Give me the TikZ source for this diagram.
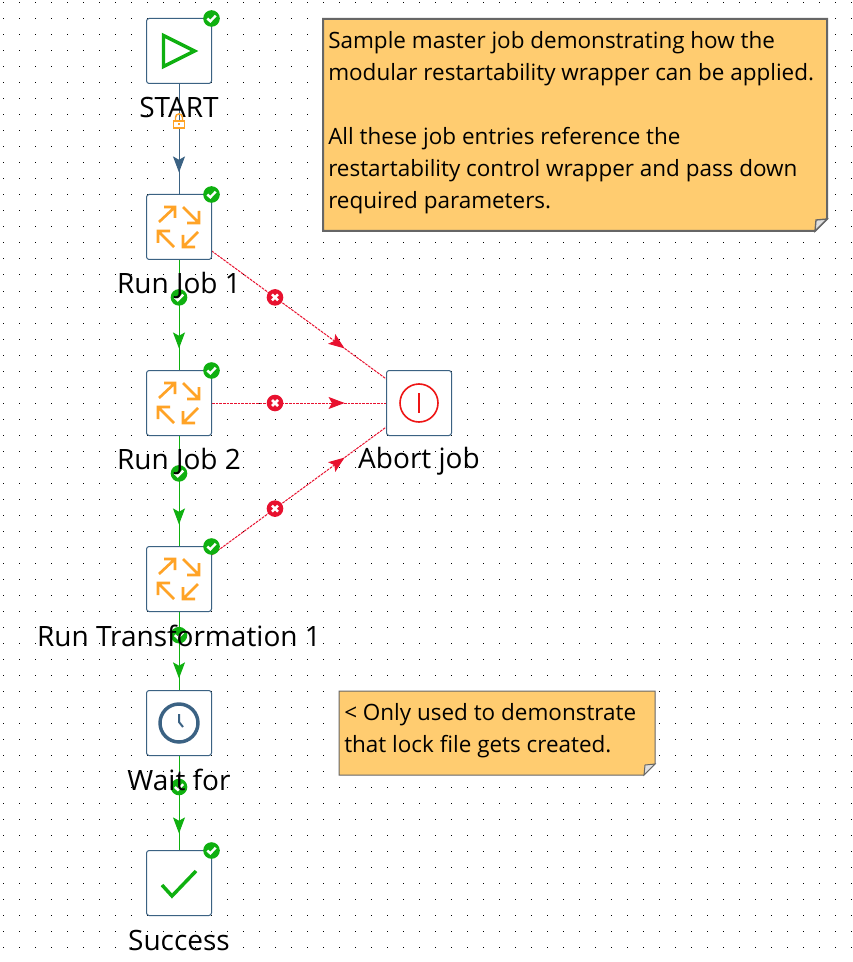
\documentclass[tikz,border=0pt]{standalone}
\usepackage{xcolor}
\usepackage{fontspec}
\setmainfont{Open Sans}
\usetikzlibrary{arrows.meta,decorations.markings}
\definecolor{boxblue}{HTML}{3B6283}
\definecolor{okgreen}{HTML}{0FB010}
\definecolor{badred}{HTML}{E8112F}
\definecolor{abortred}{HTML}{EE1515}
\definecolor{orangeicon}{HTML}{FFA326}
\definecolor{notefill}{HTML}{FFCC70}
\pgfdeclarelayer{background}
\pgfsetlayers{background,main}
\tikzset{
	px/.style={x=0.75pt,y=-0.75pt},
	entry/.style={draw=boxblue,fill=white,line width=0.75pt,rounded corners=2pt,minimum size=48.75pt,inner sep=0pt,outer sep=0pt},
	caption/.style={font=\fontsize{21}{24}\selectfont,text=black,inner sep=0pt},
	notetext/.style={font=\fontsize{16.85}{24}\selectfont,align=left,anchor=north west,inner sep=0pt,text=black},
	hop/.style={line width=0.75pt,postaction={decorate},decoration={markings,mark=at position 0.69 with {\arrow{Stealth[length=12pt,width=9pt,inset=2.5pt]}}}},
	hopblue/.style={hop,color=boxblue},
	hopgreen/.style={hop,color=okgreen},
	hopred/.style={hop,color=badred,dash pattern=on 2pt off 0.75pt},
	okbadge/.pic={
		\fill[okgreen] (0,0) circle (8.3);
		\draw[white,line width=1.8pt] (-4.2,0) -- (-1.2,2.8) -- (4.2,-2.8);
	},
	badbadge/.pic={
		\fill[badred] (0,0) circle (8.3);
		\draw[white,line width=1.9pt,solid] (-3,-3) -- (3,3) (-3,3) -- (3,-3);
	},
	lockbadge/.pic={
		\fill[white] (-6,-1) rectangle (6,7);
		\draw[orangeicon,line width=1.1pt] (-5.5,-0.5) rectangle (5.5,6.5);
		\draw[orangeicon,line width=1.1pt] (-3.5,-0.5) -- (-3.5,-4) arc (180:360:3.5) -- (3.5,-0.5);
		\fill[orangeicon] (-1,2) rectangle (1,4);
	},
	playicon/.pic={
		\draw[okgreen,line width=2.6pt] (-15.5,-15.5) -- (15.5,0) -- (-15.5,15.5) -- cycle;
	},
	spinicon/.pic={
		\draw[orangeicon,line width=2pt]
		(-20,-5) -- (-4,-20) (-15,-20) -- (-4,-20) -- (-4,-9)
		(4,-20) -- (20,-4) (20,-16) -- (20,-4) -- (8,-4)
		(-5,20) -- (-21,4) (-21,16) -- (-21,4) -- (-9,4)
		(19,5) -- (4,20) (4,8) -- (4,20) -- (16,20);
	},
	aborticon/.pic={
		\draw[abortred,line width=1.2pt] (0,0) circle (19);
		\draw[abortred,line width=1.2pt] (0,-10) -- (0,10);
	},
	clockicon/.pic={
		\draw[boxblue,line width=2.6pt] (0,0) circle (19);
		\draw[boxblue,line width=1.5pt] (0,-9) -- (0,-1) -- (4,4);
	},
	checkicon/.pic={
		\draw[okgreen,line width=2.6pt] (-17,2) -- (-7,13) -- (17,-12);
	},
}

\begin{document}
\begin{tikzpicture}[px]
	\useasboundingbox (0,0) rectangle (852,962);
	% grid
	\begin{pgfonlayer}{background}
	\fill[white] (0,0) rectangle (852,962);
	\foreach \i in {0,...,53}
		\foreach \j in {0,...,60}
			\fill[black] (3+16*\i-0.5,3+16*\j-0.5) rectangle ++(1,1);
	\end{pgfonlayer}

	% job entries
	\node[entry] at (179,51) (start) {};
	\node[entry] at (179,227) (job1) {};
	\node[entry] at (179,403) (job2) {};
	\node[entry] at (179,579) (trans) {};
	\node[entry] at (179,723) (wait) {};
	\node[entry] at (179,883) (success) {};
	\node[entry] at (419,403) (abort) {};

	\pic at (start) {playicon};
	\pic at (job1) {spinicon};
	\pic at (job2) {spinicon};
	\pic at (trans) {spinicon};
	\pic at (abort) {aborticon};
	\pic at (wait) {clockicon};
	\pic at (success) {checkicon};

	\pic at (start.north east) {okbadge};
	\pic at (job1.north east) {okbadge};
	\pic at (job2.north east) {okbadge};
	\pic at (trans.north east) {okbadge};
	\pic at (success.north east) {okbadge};

	% captions
	\node[caption] at (179,108) (startcap) {START};
	\node[caption] at (179,285) (job1cap) {Run Job 1};
	\node[caption] at (179,461) (job2cap) {Run Job 2};
	\node[caption] at (179,636) (transcap) {Run Transformation 1};
	\node[caption] at (179,780) (waitcap) {Wait for};
	\node[caption] at (179,940) (successcap) {Success};
	\node[caption] at (419,461) (abortcap) {Abort job};

	% hops
	\begin{pgfonlayer}{background}
	\draw[hopblue] (start.center) -- (job1.center);
	\draw[hopgreen] (job1.center) -- (job2.center) pic[pos=.4] {okbadge};
	\draw[hopgreen] (job2.center) -- (trans.center) pic[pos=.4] {okbadge};
	\draw[hopgreen] (trans.center) -- (wait.center) pic[pos=.39] {okbadge};
	\draw[hopgreen] (wait.center) -- (success.center) pic[pos=.4] {okbadge};
	\draw[hopred] (job1.center) -- (abort.center) pic[pos=.4] {badbadge};
	\draw[hopred] (job2.center) -- (abort.center) pic[pos=.4] {badbadge};
	\draw[hopred] (trans.center) -- (abort.center) pic[pos=.4] {badbadge};
	\end{pgfonlayer}
	\path (start.center) -- (job1.center) pic[pos=.4] {lockbadge};

	% notes
	\draw[fill=notefill,draw=black!60,line width=1.5pt] (323,19) -- (827,19) -- (827,219) -- (815,231) -- (323,231) -- cycle;
	\draw[fill=black!12,draw=black!60,line width=1pt] (827,219) -- (816,220) -- (815,231) -- cycle;
	\draw[fill=notefill,draw=black!60,line width=0.75pt] (339,691) -- (655,691) -- (655,764) -- (644,775) -- (339,775) -- cycle;
	\draw[fill=black!12,draw=black!60,line width=0.75pt] (655,764) -- (645,765) -- (644,775) -- cycle;
	\node[notetext] at (328,31) (note1) {Sample master job demonstrating how the\\modular restartability wrapper can be applied.\\[24pt]All these job entries reference the\\restartability control wrapper and pass down\\required parameters.};
	\node[notetext] at (344,703) (note2) {< Only used to demonstrate\\that lock file gets created.};
\end{tikzpicture}
\end{document}
